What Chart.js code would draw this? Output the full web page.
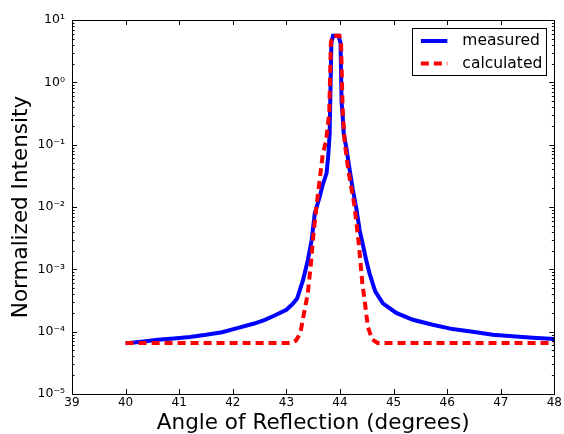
<!DOCTYPE html>
<html>
<head>
<meta charset="utf-8">
<script src="https://cdn.jsdelivr.net/npm/chart.js@4.4.1/dist/chart.umd.min.js"></script>
<style>
  html, body { margin: 0; padding: 0; background: #fff; }
  #wrap { width: 564px; height: 434px; }
</style>
</head>
<body>
<div id="wrap"><canvas id="c" width="564" height="434"></canvas></div>
<script>
// ---- data ----
const seriesLabels = ["measured", "calculated"];

const xMeasured = [40.0, 40.3, 40.6, 40.9, 41.2, 41.5, 41.8, 42.1, 42.4, 42.6, 42.8, 43.0, 43.12, 43.2,
  43.31, 43.40, 43.47, 43.53, 43.62, 43.68, 43.75, 43.78, 43.807, 43.84, 43.87, 43.97, 44.01, 44.03,
  44.05, 44.07, 44.12, 44.18, 44.24, 44.305, 44.366, 44.49, 44.55, 44.62, 44.66, 44.8, 45.05, 45.36, 45.73, 46.1,
  46.54, 46.85, 47.28, 47.6, 48.0];
const yMeasured = [6.5e-5, 6.9e-5, 7.4e-5, 7.8e-5, 8.2e-5, 8.9e-5, 9.8e-5, 1.15e-4, 1.35e-4, 1.55e-4, 1.85e-4, 2.25e-4, 2.8e-4, 3.4e-4,
  6.7e-4, 1.4e-3, 2.9e-3, 7.9e-3, 1.45e-2, 2.3e-2, 3.5e-2, 6.5e-2, 0.15, 4.3, 5.6, 5.6, 4.3, 0.48,
  0.29, 0.15, 0.087, 0.04, 0.019, 0.0095, 4.3e-3, 1.4e-3, 8.7e-4, 5.6e-4, 4.4e-4, 2.85e-4, 2.0e-4, 1.55e-4, 1.29e-4, 1.1e-4,
  9.8e-5, 8.9e-5, 8.4e-5, 8.0e-5, 7.6e-5];

const xCalculated = [40.0, 43.1, 43.18, 43.26, 43.33, 43.40, 43.46, 43.50, 43.56, 43.62, 43.68, 43.74, 43.80,
  43.83, 43.86, 43.99, 44.02, 44.05, 44.09, 44.16, 44.27, 44.35, 44.42, 44.46, 44.52, 44.60, 44.70, 48.0];
const yCalculated = [6.6e-5, 6.6e-5, 7.2e-5, 9.5e-5, 2.0e-4, 4.1e-4, 1.3e-3, 3.3e-3, 1.0e-2, 2.7e-2, 7.2e-2, 0.113, 0.33,
  4.3, 5.6, 5.6, 4.3, 0.35, 0.105, 0.037, 0.0105, 2.6e-3, 5.6e-4, 3.2e-4, 1.2e-4, 7.5e-5, 6.6e-5, 6.6e-5];

const xTickValues = [39, 40, 41, 42, 43, 44, 45, 46, 47, 48];
const yDecadeExponents = [-5, -4, -3, -2, -1, 0, 1];
const xTitle = "Angle of Reflection (degrees)";
const yTitle = "Normalized Intensity";

// ---- helpers ----
const SUP = {"-": "\u207B", "0": "\u2070", "1": "\u00B9", "2": "\u00B2", "3": "\u00B3", "4": "\u2074",
  "5": "\u2075", "6": "\u2076", "7": "\u2077", "8": "\u2078", "9": "\u2079"};
function supText(n) { return String(n).split("").map(ch => SUP[ch]).join(""); }

const yTickValues = [];
yDecadeExponents.forEach((e, i) => {
  yTickValues.push(Math.pow(10, e));
  if (i < yDecadeExponents.length - 1) {
    for (let m = 2; m <= 9; m++) yTickValues.push(m * Math.pow(10, e));
  }
});
function isDecade(v) {
  const l = Math.log10(v);
  return Math.abs(l - Math.round(l)) < 1e-9;
}

const FONT = "'DejaVu Sans', 'Liberation Sans', sans-serif";

const framePlugin = {
  id: "frame",
  afterDatasetsDraw(chart) {
    const ctx = chart.ctx;
    const a = chart.chartArea;
    const xs = chart.scales.x, ys = chart.scales.y;
    ctx.save();
    ctx.strokeStyle = "#000";
    ctx.lineWidth = 1;
    ctx.beginPath();
    xs.ticks.forEach(t => {
      const px = Math.round(xs.getPixelForValue(t.value)) + 0.5;
      ctx.moveTo(px, a.bottom); ctx.lineTo(px, a.bottom - 5);
      ctx.moveTo(px, a.top); ctx.lineTo(px, a.top + 5);
    });
    ys.ticks.forEach(t => {
      const py = Math.round(ys.getPixelForValue(t.value)) + 0.5;
      const len = isDecade(t.value) ? 5 : 2.5;
      ctx.moveTo(a.left, py); ctx.lineTo(a.left + len, py);
      ctx.moveTo(a.right, py); ctx.lineTo(a.right - len, py);
    });
    ctx.stroke();
    ctx.strokeRect(Math.round(a.left) + 0.5, Math.round(a.top) + 0.5,
      Math.round(a.right - a.left), Math.round(a.bottom - a.top));
    ctx.restore();
  }
};

const legendPlugin = {
  id: "boxLegend",
  afterDraw(chart) {
    const ctx = chart.ctx;
    const a = chart.chartArea;
    const bx = a.right - 8 - 134, by = a.top + 7.5, bw = 134, bh = 46.5;
    ctx.save();
    ctx.fillStyle = "#fff";
    ctx.fillRect(bx, by, bw, bh);
    ctx.strokeStyle = "#000";
    ctx.lineWidth = 1;
    ctx.strokeRect(Math.round(bx) + 0.5, Math.round(by) + 0.5, Math.round(bw), Math.round(bh));
    ctx.font = "15.5px " + FONT;
    ctx.textBaseline = "middle";
    ctx.textAlign = "left";
    chart.data.datasets.forEach((ds, i) => {
      const cy = by + 13.5 + i * 22.5;
      ctx.beginPath();
      ctx.strokeStyle = ds.borderColor;
      ctx.lineWidth = 4;
      ctx.setLineDash(ds.borderDash || []);
      ctx.moveTo(bx + 8.5, cy);
      ctx.lineTo(bx + 35, cy);
      ctx.stroke();
      ctx.setLineDash([]);
      ctx.fillStyle = "#000";
      ctx.fillText(ds.label, bx + 50, cy);
    });
    ctx.restore();
  }
};

const toPoints = (xs, ys) => xs.map((x, i) => ({x: x, y: ys[i]}));

new Chart(document.getElementById("c"), {
  type: "line",
  data: {
    datasets: [
      { label: seriesLabels[0], data: toPoints(xMeasured, yMeasured), borderColor: "#0000ff",
        borderWidth: 4, pointRadius: 0, tension: 0, fill: false, order: 1 },
      { label: seriesLabels[1], data: toPoints(xCalculated, yCalculated), borderColor: "#ff0000",
        borderWidth: 4, borderDash: [8, 5], pointRadius: 0, tension: 0, fill: false, order: 0 }
    ]
  },
  options: {
    responsive: false,
    animation: false,
    devicePixelRatio: 1,
    layout: { padding: { left: 0, right: 7, top: 20, bottom: 0 } },
    plugins: { legend: { display: false }, tooltip: { enabled: false } },
    scales: {
      x: {
        type: "linear", min: 39, max: 48,
        afterBuildTicks: s => { s.ticks = xTickValues.map(v => ({value: v})); },
        afterFit: s => { s.height = 40; },
        grid: { display: false, drawTicks: false },
        border: { display: false },
        ticks: { autoSkip: false, maxRotation: 0, padding: 2, color: "#000",
          font: { family: FONT, size: 12 }, callback: v => String(v) },
        title: { display: true, text: xTitle, color: "#000", padding: { top: 0, bottom: 0 },
          font: { family: FONT, size: 21.5, lineHeight: 1.0 } }
      },
      y: {
        type: "logarithmic", min: 1e-5, max: 10,
        afterBuildTicks: s => { s.ticks = yTickValues.map(v => ({value: v, major: isDecade(v)})); },
        afterFit: s => { s.width = 72; },
        grid: { display: false, drawTicks: false },
        border: { display: false },
        ticks: { autoSkip: false, padding: 7, color: "#000",
          font: { family: FONT, size: 12.5 },
          callback: v => isDecade(v) ? "10" + supText(Math.round(Math.log10(v))) : "" },
        title: { display: true, text: yTitle, color: "#000", padding: { top: 9, bottom: 0 },
          font: { family: FONT, size: 21.5 } }
      }
    }
  },
  plugins: [framePlugin, legendPlugin]
});
</script>
</body>
</html>
